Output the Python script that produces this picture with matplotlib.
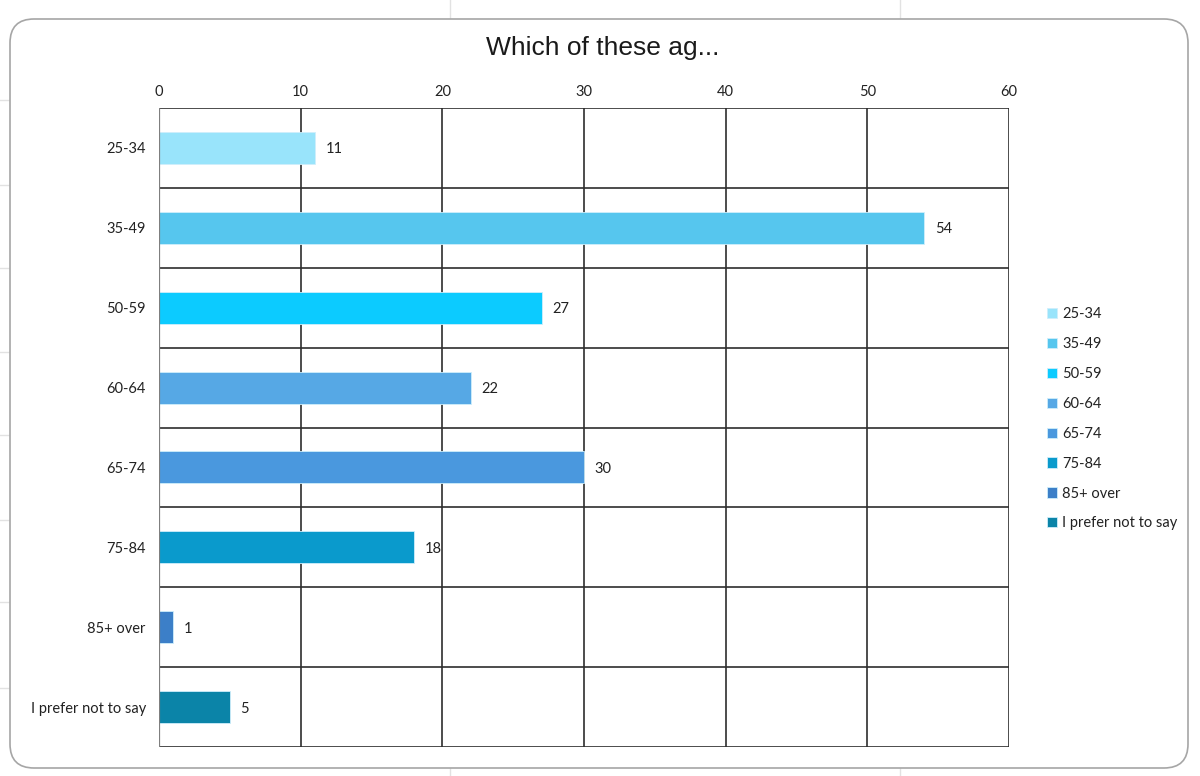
import matplotlib
matplotlib.use("Agg")
import matplotlib.pyplot as plt
from matplotlib.patches import FancyBboxPatch
from matplotlib.lines import Line2D

title = "Which of these ag..."
categories = ["25-34", "35-49", "50-59", "60-64", "65-74", "75-84", "85+ over", "I prefer not to say"]
values = [11, 54, 27, 22, 30, 18, 1, 5]
colors = ["#99e4fb", "#56c6ee", "#0ccbff", "#56a8e5", "#4a98de", "#0a9acc", "#3c7fc8", "#0b84a8"]
x_ticks = [0, 10, 20, 30, 40, 50, 60]

label_font = "Lato"

fig = plt.figure(figsize=(12, 7.76), dpi=100)
W, H = 1200, 776

# faint worksheet gridlines behind the chart object
for x in [450, 900]:
    fig.add_artist(Line2D([x / W, x / W], [1, 1 - 20 / H], color="#e2e2e2", lw=1, zorder=-3))
    fig.add_artist(Line2D([x / W, x / W], [0, 8 / H], color="#e2e2e2", lw=1, zorder=-3))
for y in [100, 185, 268, 352, 435, 520, 602, 688]:
    fig.add_artist(Line2D([0, 10 / W], [1 - y / H, 1 - y / H], color="#e2e2e2", lw=1, zorder=-3))

# chart frame with rounded corners
frame = FancyBboxPatch((10 / W, 1 - 768 / H), (1188 - 10) / W, (768 - 19) / H,
                       boxstyle="round,pad=0,rounding_size=0.02",
                       transform=fig.transFigure, facecolor="white",
                       edgecolor="#a6a6a6", lw=1.2, mutation_aspect=W / H, zorder=-2)
fig.add_artist(frame)

ax = fig.add_axes([159 / W, 1 - 747 / H, (1009 - 159) / W, (747 - 108) / H])
ax.set_facecolor("white")

n = len(categories)
ypos = list(range(n))
handles = []
for i, (cat, val, col) in enumerate(zip(categories, values, colors)):
    b = ax.barh(i, val, height=0.4, color=col, edgecolor="#cfeefb", linewidth=0.6,
                label=cat, zorder=3)
    handles.append(b)
    ax.text(val + 0.75, i, f"{val}", va="center_baseline", ha="left", fontsize=10.5,
            family=label_font, color="#222222", zorder=4)

ax.set_xlim(0, 60)
ax.set_ylim(n - 0.5, -0.5)
ax.set_xticks(x_ticks)
ax.xaxis.tick_top()
ax.tick_params(axis="x", length=0, pad=6.5, labelsize=10.5, labelcolor="#222222")
ax.set_yticks(ypos)
ax.set_yticklabels(categories)
ax.tick_params(axis="y", length=0, pad=9.5, labelsize=10.5, labelcolor="#222222")
for lab in ax.get_xticklabels() + ax.get_yticklabels():
    lab.set_family(label_font)
for lab in ax.get_yticklabels():
    lab.set_va("center_baseline")

# gridlines: vertical at value ticks, horizontal between categories
for x in x_ticks:
    ax.axvline(x, color="#2e2e2e", lw=1.2, zorder=1)
for k in range(n + 1):
    ax.axhline(k - 0.5, color="#2e2e2e", lw=1.2, zorder=1)
ax.axvline(0, color="#7f7f7f", lw=1.6, zorder=5)
for s in ax.spines.values():
    s.set_visible(False)

fig.text(603 / W, 1 - 48 / H, title, ha="center", va="center",
         fontsize=19, family="Liberation Sans", color="#1a1a1a")

leg = fig.legend(handles=handles, labels=categories, loc="upper left",
                 bbox_to_anchor=(1034 / W, 1 - 294 / H), frameon=False,
                 handlelength=0.7, handleheight=0.7, handletextpad=0.35,
                 labelspacing=1.09, prop={"family": label_font, "size": 10.5})
for t in leg.get_texts():
    t.set_color("#222222")

fig.savefig("out.png", dpi=100)
